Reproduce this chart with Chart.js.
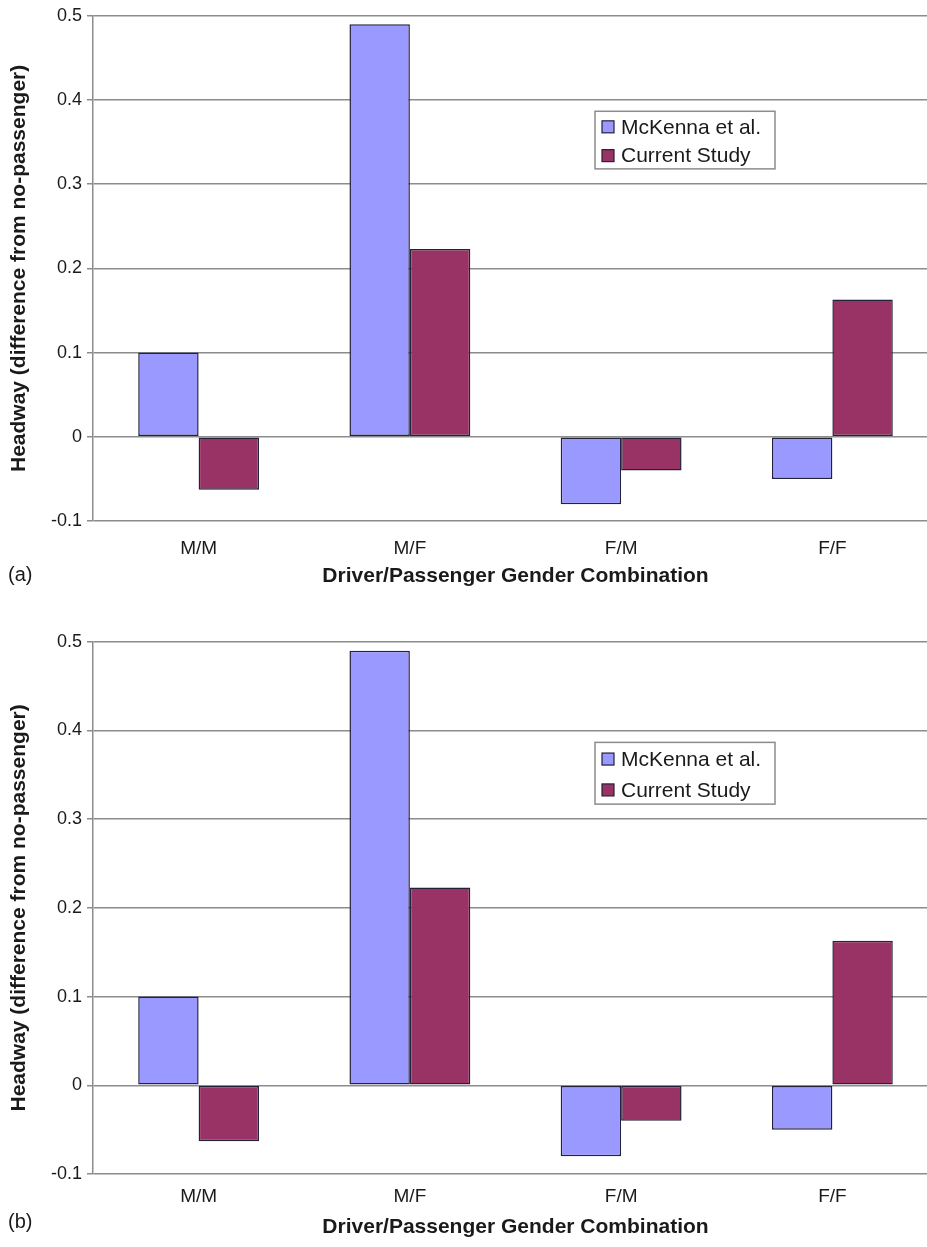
<!DOCTYPE html>
<html>
<head>
<meta charset="utf-8">
<script src="https://cdn.jsdelivr.net/npm/chart.js@4.4.1/dist/chart.umd.min.js"></script>
<style>
  html, body { margin: 0; padding: 0; background: #ffffff; }
  #page { position: relative; width: 927px; height: 1247px; overflow: hidden; background: #ffffff; }
  canvas { position: absolute; left: 0; }
  #panelA { top: 0; }
  #panelB { top: 626px; }
</style>
</head>
<body>
<div id="page">
  <canvas id="panelA" width="940" height="600"></canvas>
  <canvas id="panelB" width="940" height="621"></canvas>
</div>
<script>
// Headway change relative to driving without a passenger
const categories = ['M/M', 'M/F', 'F/M', 'F/F'];
const mckennaValues = [0.1, 0.49, -0.08, -0.05];
const currentStudyValues = [-0.063, 0.223, -0.04, 0.163];
const seriesNames = ['McKenna et al.', 'Current Study'];
const yTickValues = [-0.1, 0, 0.1, 0.2, 0.3, 0.4, 0.5];
const yTickLabels = ['-0.1', '0', '0.1', '0.2', '0.3', '0.4', '0.5'];
const yTitle = 'Headway (difference from no-passenger)';
const xTitle = 'Driver/Passenger Gender Combination';

const FONT = "'Liberation Sans', Arial, Helvetica, sans-serif";
const GRID = '#8c8c8c';
const INK = '#1a1a1a';
const SERIES_FILL = ['#9999ff', '#993366'];
const BAR_EDGE = '#22223a';

// Framed legend drawn inside the plot area
const boxLegend = {
  id: 'boxLegend',
  afterDraw(chart, args, opts) {
    const ctx = chart.ctx;
    const area = chart.chartArea;
    const h = area.bottom - area.top;
    const top = area.top + opts.topFrac * h;
    const bh = opts.heightFrac * h;
    const left = opts.left, w = opts.width;
    ctx.save();
    ctx.fillStyle = '#ffffff';
    ctx.fillRect(left, top, w, bh);
    ctx.strokeStyle = GRID;
    ctx.lineWidth = 1.5;
    ctx.strokeRect(left, top, w, bh);
    ctx.font = '21px ' + FONT;
    ctx.textBaseline = 'middle';
    ctx.textAlign = 'left';
    const rows = [0.27, 0.77];
    chart.data.datasets.forEach((ds, i) => {
      const cy = top + rows[i] * bh;
      ctx.fillStyle = ds.backgroundColor;
      ctx.fillRect(left + 7, cy - 6, 12, 12);
      ctx.strokeStyle = BAR_EDGE;
      ctx.lineWidth = 1.2;
      ctx.strokeRect(left + 7, cy - 6, 12, 12);
      ctx.fillStyle = INK;
      ctx.fillText(ds.label, left + 26, cy + 1);
    });
    ctx.restore();
  }
};

// Panel letter in the lower left corner
const panelTag = {
  id: 'panelTag',
  afterDraw(chart, args, opts) {
    const ctx = chart.ctx;
    ctx.save();
    ctx.font = '20px ' + FONT;
    ctx.fillStyle = INK;
    ctx.textAlign = 'left';
    ctx.textBaseline = 'middle';
    ctx.fillText(opts.text, opts.x, opts.y);
    ctx.restore();
  }
};

function buildPanel(canvasId, tag, geo) {
  return new Chart(document.getElementById(canvasId), {
    type: 'bar',
    data: {
      labels: categories,
      datasets: [
        { label: seriesNames[0], data: mckennaValues, backgroundColor: SERIES_FILL[0] },
        { label: seriesNames[1], data: currentStudyValues, backgroundColor: SERIES_FILL[1] }
      ]
    },
    options: {
      responsive: false,
      animation: false,
      devicePixelRatio: 1,
      layout: { padding: { top: 14, right: 2, left: 0, bottom: 0 } },
      datasets: {
        bar: {
          categoryPercentage: 0.572,
          barPercentage: 1.0,
          borderColor: BAR_EDGE,
          borderWidth: 1.5,
          borderSkipped: false
        }
      },
      plugins: {
        legend: { display: false },
        tooltip: { enabled: false },
        boxLegend: { left: 595, width: 180, topFrac: 0.189, heightFrac: geo.legendFrac },
        panelTag: { text: tag, x: 8, y: geo.tagY }
      },
      scales: {
        x: {
          grid: { display: false, drawTicks: false },
          border: { display: false },
          ticks: { padding: geo.xTickPad, color: INK, font: { family: FONT, size: 19 } },
          title: {
            display: true, text: xTitle, color: INK,
            font: { family: FONT, size: 21, weight: 'bold' },
            padding: { top: 0, bottom: geo.xTitlePad }
          },
          afterFit(s) { s.height = geo.xAxisHeight; }
        },
        y: {
          min: yTickValues[0],
          max: yTickValues[yTickValues.length - 1],
          afterBuildTicks(s) { s.ticks = yTickValues.map(v => ({ value: v })); },
          ticks: {
            padding: 5, color: INK, font: { family: FONT, size: 18 },
            callback: (v) => yTickLabels[yTickValues.indexOf(v)]
          },
          grid: { color: GRID, lineWidth: 1.5, tickLength: 6, drawTicks: true },
          border: { display: true, color: GRID, width: 1.5 },
          title: {
            display: true, text: yTitle, color: INK,
            font: { family: FONT, size: 21, weight: 'bold' },
            padding: { top: 7, bottom: 0 }
          },
          afterFit(s) { s.width = 93; }
        }
      }
    },
    plugins: [boxLegend, panelTag]
  });
}

buildPanel('panelA', '(a)', { xAxisHeight: 79, xTickPad: 16, xTitlePad: 11, legendFrac: 0.114, tagY: 575 });
buildPanel('panelB', '(b)', { xAxisHeight: 73, xTickPad: 11, xTitlePad: 7, legendFrac: 0.116, tagY: 596 });
</script>
</body>
</html>
